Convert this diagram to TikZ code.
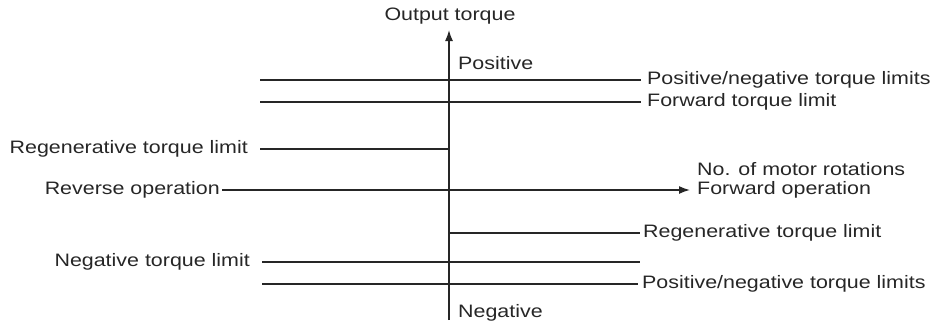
\documentclass[tikz,border=0pt]{standalone}
\usepackage{fontspec}
\setmainfont[FakeStretch=1.19]{Liberation Sans}
\usetikzlibrary{arrows.meta}
\begin{document}
\begin{tikzpicture}[x=1pt,y=-1pt,
  lbl/.style={inner sep=0pt,font=\fontsize{18}{21}\selectfont,text=black!85},
  thin/.style={line width=1.5pt,black!85},
  thk/.style={line width=2.4pt,black!85},
  axis/.style={line width=1.5pt,black!85,-{Latex[length=11pt,width=8pt]}}]
\useasboundingbox (0,0) rectangle (931,327);
% axes
\coordinate (vb) at (449,320);
\coordinate (vt) at (449,30);
\coordinate (hl) at (222,190);
\coordinate (hr) at (690,190);
\draw[axis] (vb) -- (vt);
\draw[axis] (hl) -- (hr);
\node[lbl,anchor=base] (ot) at (450,20) {Output torque};
\node[lbl,anchor=base west] (pos) at (458,69) {Positive};
\node[lbl,anchor=base west] (neg) at (458,317) {Negative};
\node[lbl,anchor=east] (rev) at (220,190) {Reverse operation};
\node[lbl,anchor=base west] (nmr) at (697,175) {No. of motor rotations};
\node[lbl,anchor=west] (fwd) at (697,190) {Forward operation};
% top limits
\node[lbl,anchor=west] (pn1) at (647,80) {Positive/negative torque limits};
\coordinate (a1) at (260,80);
\draw[thk,shorten >=6pt] (a1) -- (pn1.west);
\node[lbl,anchor=west] (ftl) at (647,102) {Forward torque limit};
\coordinate (a2) at (260,102);
\draw[thin,shorten >=6pt] (a2) -- (ftl.west);
\node[lbl,anchor=east] (rtl1) at (248,149) {Regenerative torque limit};
\coordinate (a3) at (449,149);
\draw[thin,shorten <=12pt] (rtl1.east) -- (a3);
% bottom limits
\node[lbl,anchor=west] (rtl2) at (643,233) {Regenerative torque limit};
\coordinate (a4) at (449,233);
\draw[thin,shorten >=3pt] (a4) -- (rtl2.west);
\node[lbl,anchor=east] (ntl) at (250,262) {Negative torque limit};
\coordinate (a5e) at (640,262);
\draw[thk,shorten <=12pt] (ntl.east) -- (a5e);
\node[lbl,anchor=west] (pn2) at (642,284) {Positive/negative torque limits};
\coordinate (a6) at (262,284);
\draw[thk,shorten >=4pt] (a6) -- (pn2.west);
\end{tikzpicture}
\end{document}
